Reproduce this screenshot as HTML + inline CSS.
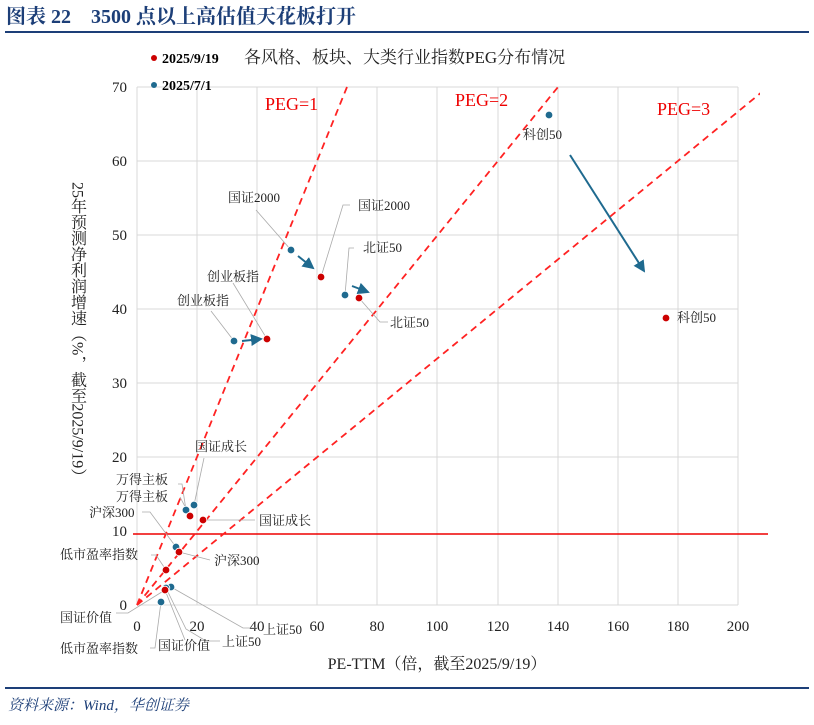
<!DOCTYPE html>
<html><head><meta charset="utf-8"><style>
body{margin:0;background:#fff;width:814px;height:720px;overflow:hidden}
svg text{font-family:"Liberation Serif","Noto Serif CJK SC",serif}
</style></head><body>
<svg width="814" height="720" xmlns="http://www.w3.org/2000/svg">
<defs>
<marker id="ar" markerWidth="6" markerHeight="6" refX="5" refY="3" orient="auto" markerUnits="strokeWidth"><path d="M0,0L6,3L0,6z" fill="#1f6a8f"/></marker>
<clipPath id="cp"><rect x="120" y="85" width="640" height="530"/></clipPath>
</defs>
<text x="6" y="23" font-size="20" font-weight="bold" fill="#1d3f78">图表 22　3500 点以上高估值天花板打开</text>
<rect x="5" y="31" width="804" height="2" fill="#1d3f78"/>
<g stroke="#d9d9d9" stroke-width="1">
<line x1="137" y1="87" x2="738" y2="87"/><line x1="137" y1="161" x2="738" y2="161"/><line x1="137" y1="235" x2="738" y2="235"/><line x1="137" y1="309" x2="738" y2="309"/><line x1="137" y1="383" x2="738" y2="383"/><line x1="137" y1="457" x2="738" y2="457"/><line x1="137" y1="605" x2="738" y2="605"/>
<line x1="137" y1="87" x2="137" y2="605"/><line x1="197" y1="87" x2="197" y2="605"/><line x1="257" y1="87" x2="257" y2="605"/><line x1="317" y1="87" x2="317" y2="605"/><line x1="377" y1="87" x2="377" y2="605"/><line x1="437" y1="87" x2="437" y2="605"/><line x1="498" y1="87" x2="498" y2="605"/><line x1="558" y1="87" x2="558" y2="605"/><line x1="618" y1="87" x2="618" y2="605"/><line x1="678" y1="87" x2="678" y2="605"/><line x1="738" y1="87" x2="738" y2="605"/>
</g>
<line x1="133" y1="534" x2="768" y2="534" stroke="#e00" stroke-width="1.5"/>
<g clip-path="url(#cp)" stroke="#f22" stroke-width="1.8" stroke-dasharray="7,5" fill="none">
<line x1="137" y1="605" x2="347" y2="87"/><line x1="137" y1="605" x2="558" y2="87"/><line x1="137" y1="605" x2="768" y2="87"/>
</g>
<g font-size="18" fill="#e00"><text x="265" y="110">PEG=1</text><text x="455" y="106">PEG=2</text><text x="657" y="115">PEG=3</text></g>
<g font-size="15" fill="#222" text-anchor="end">
<text x="127" y="92">70</text><text x="127" y="166">60</text><text x="127" y="240">50</text><text x="127" y="314">40</text><text x="127" y="388">30</text><text x="127" y="462">20</text><text x="127" y="536">10</text><text x="127" y="610">0</text>
</g>
<g font-size="15" fill="#222" text-anchor="middle">
<text x="137" y="631">0</text><text x="197" y="631">20</text><text x="257" y="631">40</text><text x="317" y="631">60</text><text x="377" y="631">80</text><text x="437" y="631">100</text><text x="498" y="631">120</text><text x="558" y="631">140</text><text x="618" y="631">160</text><text x="678" y="631">180</text><text x="738" y="631">200</text>
</g>
<text x="437" y="669" font-size="16" text-anchor="middle" fill="#222">PE-TTM（倍，截至2025/9/19）</text>
<text x="77" y="182" font-size="16" fill="#222" style="writing-mode:vertical-rl;text-orientation:mixed">25年预测净利润增速（%，截至2025/9/19）</text>
<circle cx="154" cy="58" r="3" fill="#c00"/><text x="162" y="63" font-size="14" font-weight="bold">2025/9/19</text>
<text x="244" y="63" font-size="17" fill="#222">各风格、板块、大类行业指数PEG分布情况</text>
<circle cx="154" cy="85" r="3" fill="#1f6a8f"/><text x="162" y="90" font-size="14" font-weight="bold">2025/7/1</text>
<g stroke="#aaa" stroke-width="0.8" fill="none">
<polyline points="256,210 291,250"/><polyline points="350,205 343,205 321,277"/>
<polyline points="354,248 349,248 345,295"/><polyline points="359,298 380,322 388,322"/>
<polyline points="211,311 234,341"/><polyline points="233,283 267,339"/>
<polyline points="204,458 194,505"/><polyline points="178,484 182,484 186,510"/><polyline points="180,497 190,516"/>
<polyline points="203,520 255,520"/><polyline points="142,512 150,512 176,547"/><polyline points="179,552 210,560"/>
<polyline points="151,555 156,555 166,570"/><polyline points="116,613 128,613 165,590"/>
<polyline points="166,588 186,629 206,641 220,641"/><polyline points="171,587 243,628 258,628"/>
<polyline points="161,602 155,648 150,648"/><polyline points="165,590 185,640"/>
</g>
<g stroke="#1f6a8f" stroke-width="2" fill="none" marker-end="url(#ar)">
<line x1="298" y1="256" x2="313" y2="268"/><line x1="352" y1="286" x2="368" y2="292"/>
<line x1="242" y1="341" x2="261" y2="339"/><line x1="570" y1="155" x2="644" y2="271"/>
</g>
<g fill="#1f6a8f" stroke="#fff" stroke-width="0.8">
<circle cx="549" cy="115" r="3.8"/><circle cx="291" cy="250" r="3.8"/><circle cx="345" cy="295" r="3.8"/><circle cx="234" cy="341" r="3.8"/><circle cx="194" cy="505" r="3.8"/><circle cx="186" cy="510" r="3.8"/><circle cx="176" cy="547" r="3.8"/><circle cx="171" cy="587" r="3.8"/><circle cx="166" cy="588" r="3.8"/><circle cx="161" cy="602" r="3.8"/>
</g>
<g fill="#c00" stroke="#fff" stroke-width="0.8">
<circle cx="666" cy="318" r="3.8"/><circle cx="321" cy="277" r="3.8"/><circle cx="359" cy="298" r="3.8"/><circle cx="267" cy="339" r="3.8"/><circle cx="190" cy="516" r="3.8"/><circle cx="203" cy="520" r="3.8"/><circle cx="179" cy="552" r="3.8"/><circle cx="166" cy="570" r="3.8"/><circle cx="165" cy="590" r="3.8"/>
</g>
<g font-size="13" fill="#222">
<text x="523" y="139">科创50</text><text x="677" y="322">科创50</text>
<text x="228" y="202">国证2000</text><text x="358" y="210">国证2000</text>
<text x="363" y="252">北证50</text><text x="390" y="327">北证50</text>
<text x="207" y="281">创业板指</text><text x="177" y="305">创业板指</text>
<text x="195" y="451">国证成长</text><text x="259" y="525">国证成长</text>
<text x="116" y="484">万得主板</text><text x="116" y="501">万得主板</text>
<text x="89" y="517">沪深300</text><text x="214" y="565">沪深300</text>
<text x="60" y="559">低市盈率指数</text><text x="60" y="653">低市盈率指数</text>
<text x="60" y="622">国证价值</text><text x="158" y="650">国证价值</text>
<text x="222" y="646">上证50</text><text x="263" y="634">上证50</text>
</g>
<rect x="5" y="687" width="804" height="2" fill="#1d3f78"/>
<text x="8" y="710" font-size="15" font-style="italic" fill="#1d3f78">资料来源：Wind，华创证券</text>
</svg>
</body></html>
